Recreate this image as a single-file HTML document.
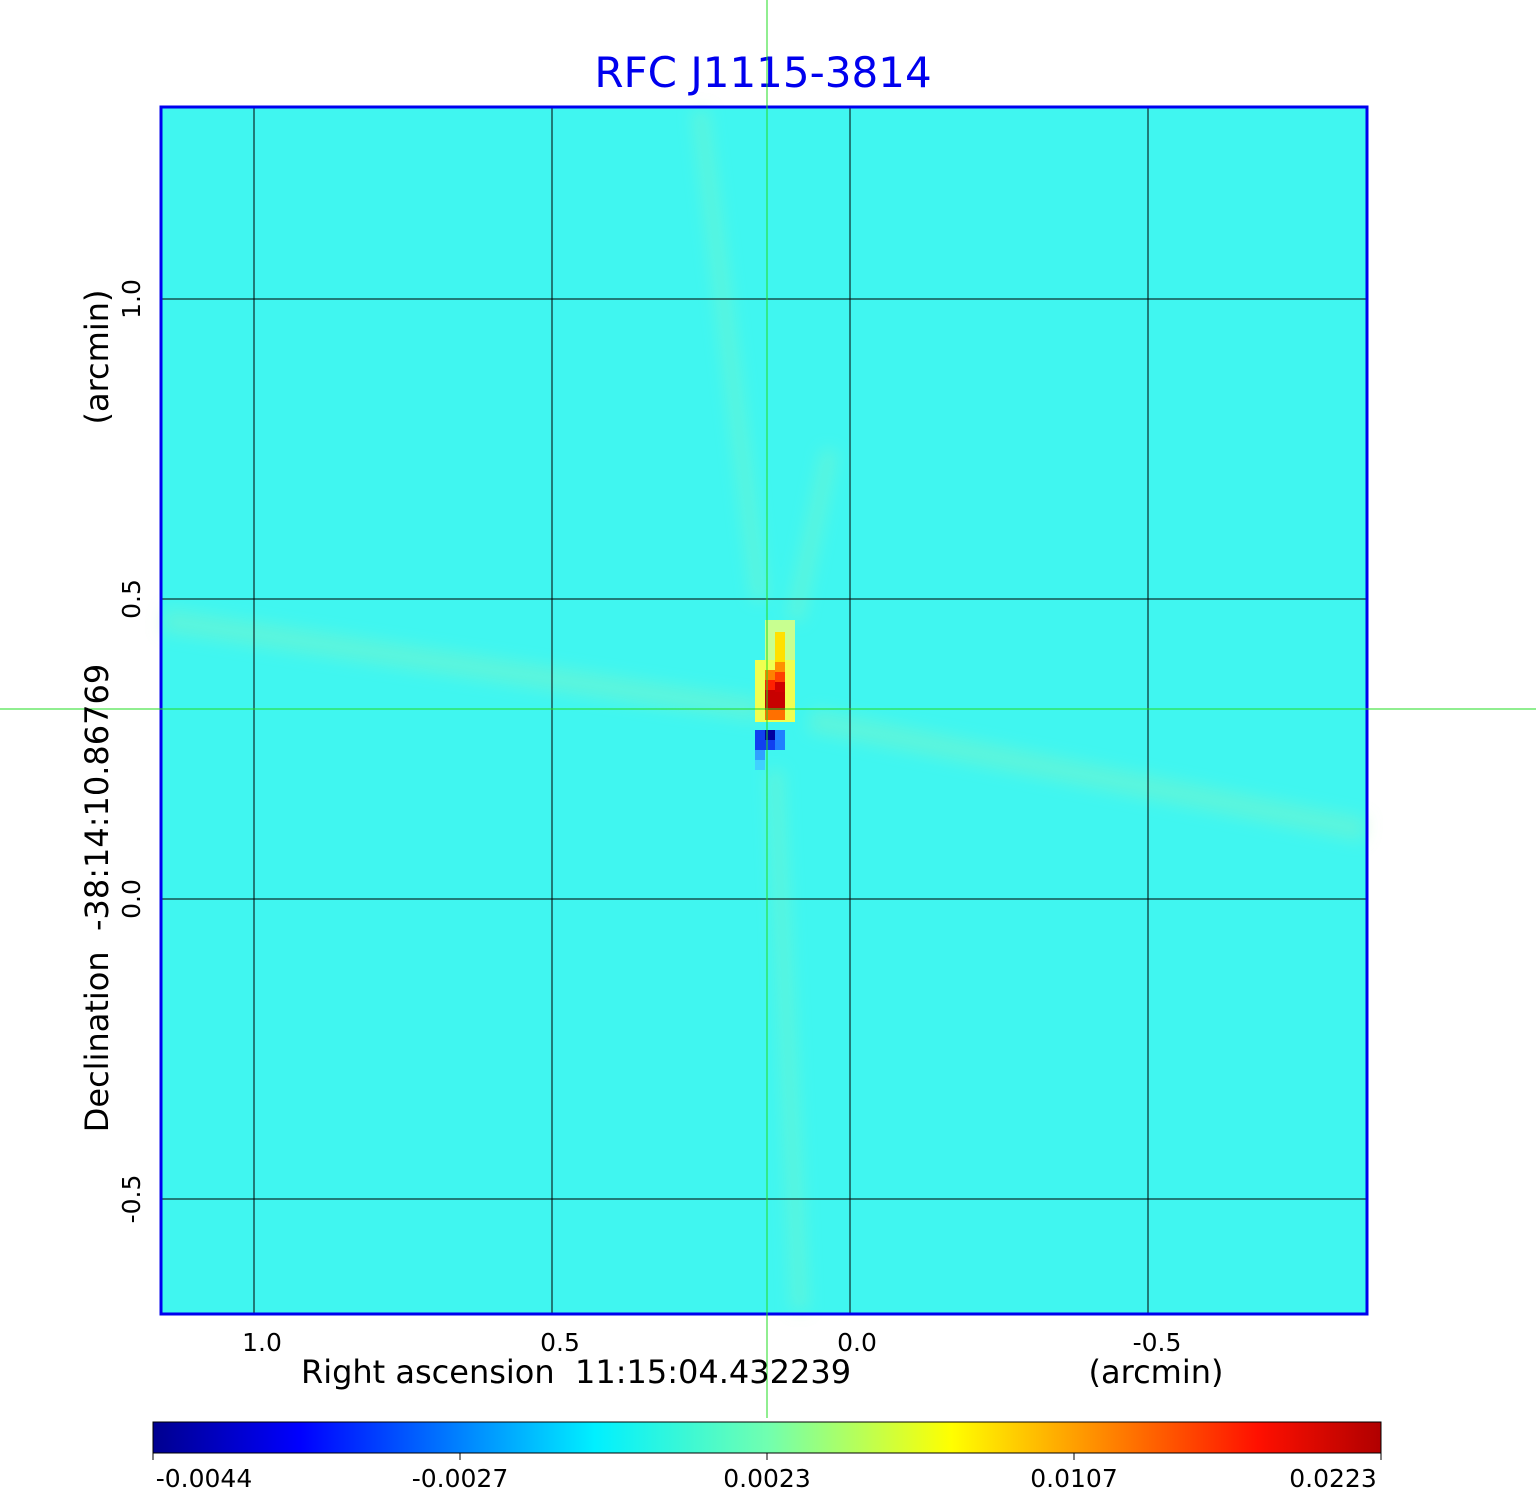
<!DOCTYPE html>
<html><head><meta charset="utf-8"><style>html,body{margin:0;padding:0;background:#fff}svg{display:block}text{white-space:pre}</style></head><body>
<svg width="1536" height="1511" viewBox="0 0 1536 1511" xmlns="http://www.w3.org/2000/svg" font-family="'DejaVu Sans','Liberation Sans',sans-serif">
<defs>
<linearGradient id="jet" x1="0" x2="1" y1="0" y2="0">
<stop offset="0" stop-color="#00008f"/>
<stop offset="0.12" stop-color="#0000ff"/>
<stop offset="0.36" stop-color="#00f0ff"/>
<stop offset="0.5" stop-color="#70ffb0"/>
<stop offset="0.65" stop-color="#ffff00"/>
<stop offset="0.9" stop-color="#ff1000"/>
<stop offset="1" stop-color="#b00000"/>
</linearGradient>
<filter id="bl" x="-20%" y="-20%" width="140%" height="140%"><feGaussianBlur stdDeviation="8"/></filter>
</defs>
<text x="763" y="87" font-size="42" fill="#0000ee" text-anchor="middle">RFC J1115-3814</text>
<rect x="161" y="107" width="1206" height="1207" fill="#40f6f0"/>
<g stroke="#90f4b8" stroke-opacity="0.35" fill="none" filter="url(#bl)">
<path d="M163 620 L760 710" stroke-width="24"/>
<path d="M810 720 L1365 830" stroke-width="24"/>
<path d="M700 110 L760 600" stroke-width="16"/>
<path d="M830 450 L795 620" stroke-width="16"/>
<path d="M775 770 L800 1310" stroke-width="16"/>
</g>
<g>
<rect x="755" y="660" width="40" height="62" fill="#f0ff50"/>
<rect x="765" y="620" width="30" height="40" fill="#c8ff90"/>
<rect x="775" y="632" width="10" height="30" fill="#ffe000"/>
<rect x="775" y="662" width="10" height="10" fill="#ff9000"/>
<rect x="765" y="670" width="10" height="10" fill="#ff8000"/>
<rect x="775" y="672" width="10" height="10" fill="#ff4000"/>
<rect x="765" y="680" width="10" height="10" fill="#ff2000"/>
<rect x="765" y="690" width="20" height="20" fill="#c80000"/>
<rect x="775" y="682" width="10" height="10" fill="#d00000"/>
<rect x="765" y="710" width="20" height="10" fill="#ff7000"/>
<rect x="755" y="730" width="10" height="20" fill="#1040f0"/>
<rect x="765" y="730" width="10" height="10" fill="#0000a0"/>
<rect x="765" y="740" width="10" height="10" fill="#1040f0"/>
<rect x="775" y="730" width="10" height="20" fill="#2080ff"/>
<rect x="755" y="750" width="10" height="10" fill="#30a0ff"/>
<rect x="755" y="760" width="10" height="10" fill="#40d0ff"/>
</g>
<g stroke="#000" stroke-width="1">
<line x1="254" y1="107" x2="254" y2="1314"/><line x1="552" y1="107" x2="552" y2="1314"/>
<line x1="850" y1="107" x2="850" y2="1314"/><line x1="1148" y1="107" x2="1148" y2="1314"/>
<line x1="161" y1="299" x2="1367" y2="299"/><line x1="161" y1="599" x2="1367" y2="599"/>
<line x1="161" y1="899" x2="1367" y2="899"/><line x1="161" y1="1199" x2="1367" y2="1199"/>
</g>
<rect x="161" y="107" width="1206" height="1207" fill="none" stroke="#0000ee" stroke-width="3"/>
<line x1="767" y1="0" x2="767" y2="1418" stroke="#22dd22" stroke-width="1"/>
<line x1="0" y1="709" x2="1536" y2="709" stroke="#22dd22" stroke-width="1"/>
<g font-size="25" fill="#000" text-anchor="middle">
<text x="262" y="1351">1.0</text><text x="560" y="1351">0.5</text><text x="857" y="1351">0.0</text><text x="1157" y="1351">-0.5</text>
<text x="576" y="1383" font-size="32" xml:space="preserve">Right ascension  11:15:04.432239</text>
<text x="1156" y="1383" font-size="32">(arcmin)</text>
<text transform="translate(140,299) rotate(-90)">1.0</text>
<text transform="translate(140,599) rotate(-90)">0.5</text>
<text transform="translate(140,899) rotate(-90)">0.0</text>
<text transform="translate(140,1199) rotate(-90)">-0.5</text>
<text transform="translate(108,898) rotate(-90)" font-size="32" xml:space="preserve">Declination  -38:14:10.86769</text>
<text transform="translate(108,357) rotate(-90)" font-size="32">(arcmin)</text>
</g>
<rect x="153" y="1422" width="1228" height="31" fill="url(#jet)" stroke="#000" stroke-width="1"/>
<g stroke="#000"><line x1="153" y1="1453" x2="153" y2="1460"/><line x1="460" y1="1453" x2="460" y2="1460"/><line x1="767" y1="1453" x2="767" y2="1460"/><line x1="1074" y1="1453" x2="1074" y2="1460"/><line x1="1381" y1="1453" x2="1381" y2="1460"/></g>
<g font-size="25" fill="#000" text-anchor="middle">
<text x="204" y="1487">-0.0044</text><text x="460" y="1487">-0.0027</text><text x="767" y="1487">0.0023</text><text x="1074" y="1487">0.0107</text><text x="1333" y="1487">0.0223</text>
</g>
</svg>
</body></html>
